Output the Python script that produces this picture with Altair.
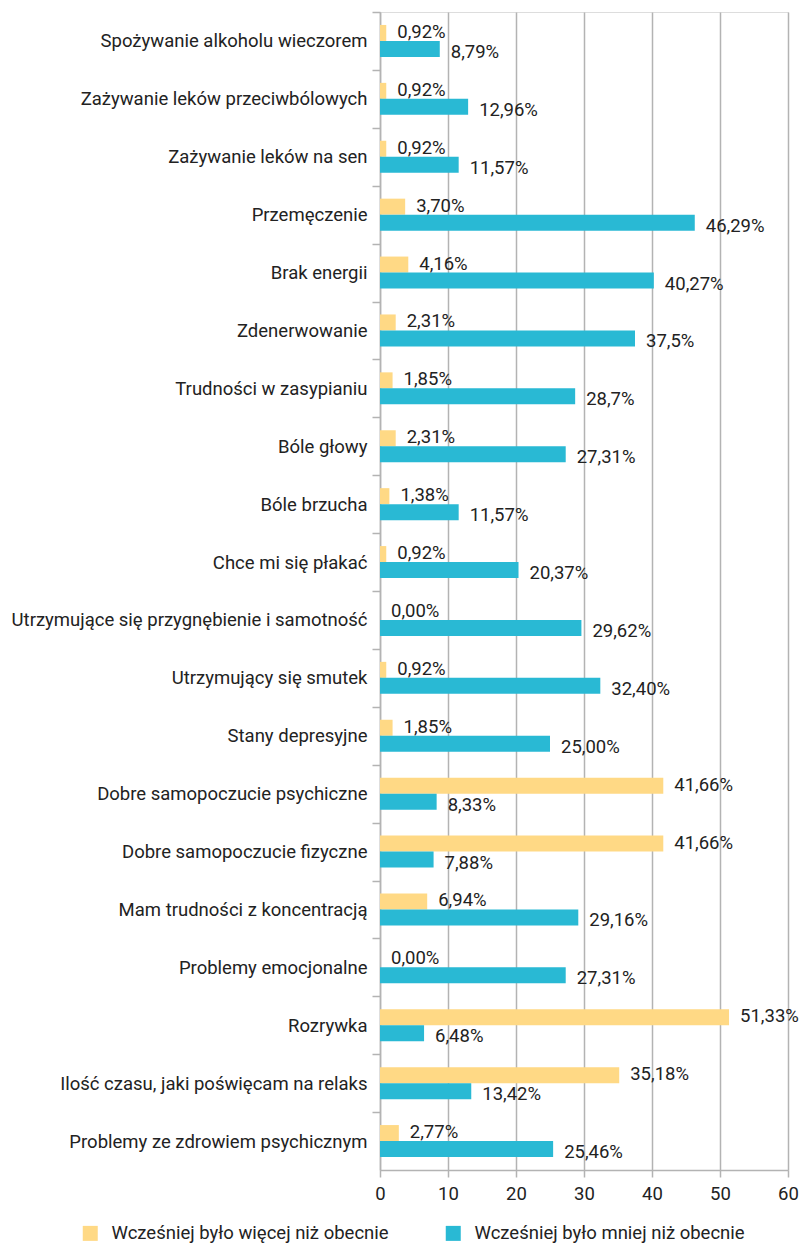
import altair as alt
import pandas as pd

categories = [
    "Spożywanie alkoholu wieczorem",
    "Zażywanie leków przeciwbólowych",
    "Zażywanie leków na sen",
    "Przemęczenie",
    "Brak energii",
    "Zdenerwowanie",
    "Trudności w zasypianiu",
    "Bóle głowy",
    "Bóle brzucha",
    "Chce mi się płakać",
    "Utrzymujące się przygnębienie i samotność",
    "Utrzymujący się smutek",
    "Stany depresyjne",
    "Dobre samopoczucie psychiczne",
    "Dobre samopoczucie fizyczne",
    "Mam trudności z koncentracją",
    "Problemy emocjonalne",
    "Rozrywka",
    "Ilość czasu, jaki poświęcam na relaks",
    "Problemy ze zdrowiem psychicznym",
]
more_before = [0.92, 0.92, 0.92, 3.70, 4.16, 2.31, 1.85, 2.31, 1.38, 0.92,
               0.00, 0.92, 1.85, 41.66, 41.66, 6.94, 0.00, 51.33, 35.18, 2.77]
more_labels = ["0,92%", "0,92%", "0,92%", "3,70%", "4,16%", "2,31%", "1,85%", "2,31%", "1,38%", "0,92%",
               "0,00%", "0,92%", "1,85%", "41,66%", "41,66%", "6,94%", "0,00%", "51,33%", "35,18%", "2,77%"]
less_before = [8.79, 12.96, 11.57, 46.29, 40.27, 37.5, 28.7, 27.31, 11.57, 20.37,
               29.62, 32.40, 25.00, 8.33, 7.88, 29.16, 27.31, 6.48, 13.42, 25.46]
less_labels = ["8,79%", "12,96%", "11,57%", "46,29%", "40,27%", "37,5%", "28,7%", "27,31%", "11,57%", "20,37%",
               "29,62%", "32,40%", "25,00%", "8,33%", "7,88%", "29,16%", "27,31%", "6,48%", "13,42%", "25,46%"]
series = ["Wcześniej było więcej niż obecnie", "Wcześniej było mniej niż obecnie"]
colors = ["#FFD985", "#29B9D4"]
x_ticks = [0, 10, 20, 30, 40, 50, 60]

rows = []
for i, c in enumerate(categories):
    rows.append({"cat": c, "series": series[0], "value": more_before[i], "label": more_labels[i]})
    rows.append({"cat": c, "series": series[1], "value": less_before[i], "label": less_labels[i]})
df = pd.DataFrame(rows)

H = 1158
W = 408
step = H / len(categories)
FONT = "Roboto"
FS = 18.5

y_enc = alt.Y("cat:N", sort=categories, title=None,
              scale=alt.Scale(paddingInner=0, paddingOuter=0),
              axis=alt.Axis(tickOffset=-step / 2, labelOffset=step / 2, tickSize=8,
                            labelPadding=5, labelFontSize=FS, labelFont=FONT,
                            labelColor="#222222", tickColor="#b3b3b3",
                            domainColor="#b3b3b3", domainWidth=1.5, tickWidth=1.5,
                            labelLimit=400))
yoff_enc = alt.YOffset("series:N", sort=series,
                       scale=alt.Scale(paddingInner=0, paddingOuter=0.81))
x_enc = alt.X("value:Q", title=None,
              scale=alt.Scale(domain=[0, 60], nice=False),
              axis=alt.Axis(values=x_ticks, grid=True, gridColor="#b3b3b3", gridWidth=1.5,
                            domainColor="#b3b3b3", domainWidth=1.5, tickColor="#b3b3b3",
                            tickWidth=1.5, tickSize=7, labelPadding=7, labelFontSize=FS,
                            labelFont=FONT, labelColor="#222222", labelFlush=False))

base = alt.Chart(df)

bars = base.mark_bar().encode(
    y=y_enc,
    yOffset=yoff_enc,
    x=x_enc,
    color=alt.Color("series:N", sort=series,
                    scale=alt.Scale(domain=series, range=colors),
                    legend=alt.Legend(title=None, orient="none", legendX=-299, legendY=1212,
                                      direction="horizontal", columns=2, columnPadding=55,
                                      symbolType="square", symbolSize=225, symbolStrokeWidth=0,
                                      labelFontSize=FS, labelFont=FONT, labelColor="#222222",
                                      labelOffset=12, padding=0, labelLimit=400)),
)

txt_more = base.transform_filter(alt.datum.series == series[0]).mark_text(
    align="left", baseline="middle", dx=11, dy=-1, fontSize=FS, font=FONT, color="#222222"
).encode(y=y_enc, yOffset=yoff_enc, x=x_enc, text="label:N")

txt_less = base.transform_filter(alt.datum.series == series[1]).mark_text(
    align="left", baseline="middle", dx=11, dy=3, fontSize=FS, font=FONT, color="#222222"
).encode(y=y_enc, yOffset=yoff_enc, x=x_enc, text="label:N")

chart = alt.layer(bars, txt_more, txt_less).properties(
    width=W, height=H,
    autosize=alt.AutoSizeParams(type="none"),
    padding={"left": 372, "top": 4, "right": 12, "bottom": 78},
).configure_view(stroke=None).configure(background="white")

chart.save("out.html", embed_options={"renderer": "svg", "actions": False})
